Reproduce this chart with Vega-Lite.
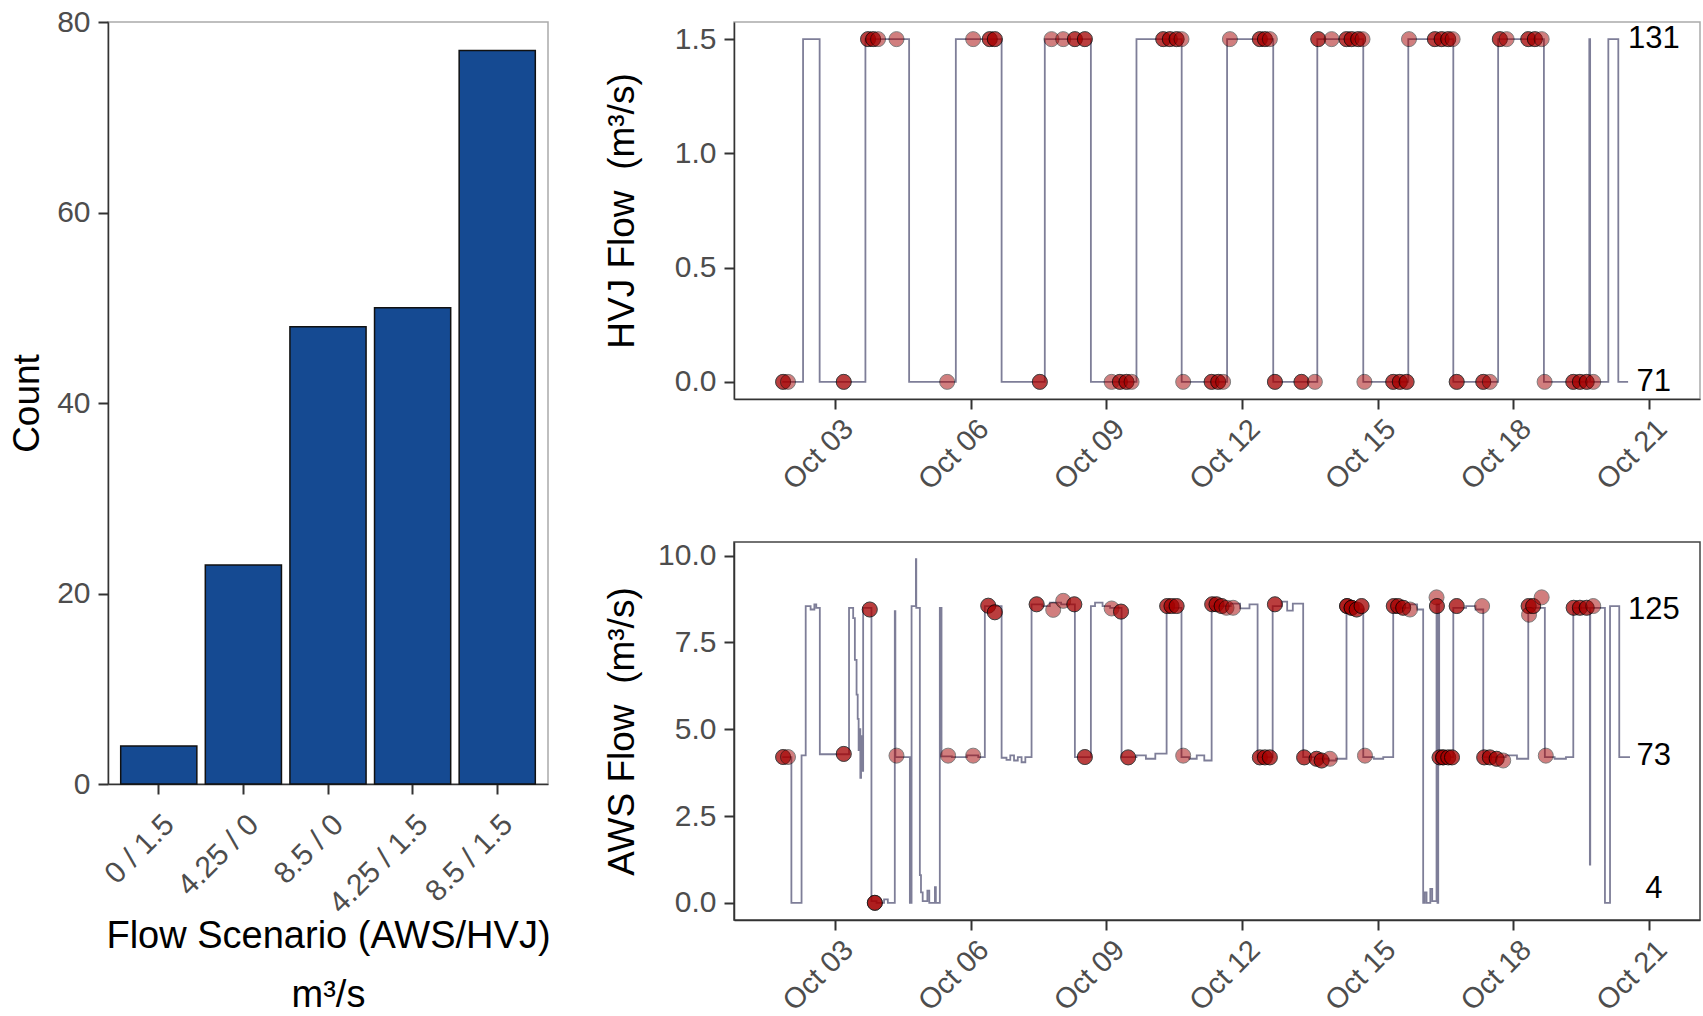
{
  "$schema": "https://vega.github.io/schema/vega-lite/v6.json",
  "background": "white",
  "padding": {"left": 7, "top": 6, "right": 0, "bottom": 0},
  "spacing": 51,
  "config": {
    "font": "Liberation Sans",
    "view": {"stroke": "#AAAAAA", "strokeWidth": 1.5},
    "axis": {
      "labelFont": "Liberation Sans", "labelFontSize": 30, "labelColor": "#4D4D4D",
      "titleFont": "Liberation Sans", "titleFontSize": 37, "titleColor": "#000000", "titleFontWeight": "normal",
      "grid": false, "tickSize": 10, "tickWidth": 2, "tickColor": "#333333",
      "domainColor": "#333333", "domainWidth": 1.5, "labelPadding": 8
    }
  },
  "hconcat": [
    {
      "width": 440, "height": 762,
      "data": {"name": "bars"},
      "mark": {"type": "bar", "fill": "#154A92", "stroke": "#111111", "strokeWidth": 1.5},
      "encoding": {
        "x": {"field": "scenario", "type": "nominal", "sort": null,
          "scale": {"paddingInner": 0.1, "paddingOuter": 0.15},
          "axis": {"title": ["Flow Scenario (AWS/HVJ)", "m³/s"], "labelAngle": -45, "labelAlign": "right", "labelBaseline": "top",
            "labelOffset": 0, "labelPadding": 15, "titleFontSize": 38, "titleLineHeight": 59, "titleY": 133}},
        "y": {"field": "count", "type": "quantitative", "scale": {"domain": [0, 80], "nice": false},
          "axis": {"title": "Count", "values": [0, 20, 40, 60, 80], "titleX": -62}}
      }
    },
    {
      "spacing": 43,
      "vconcat": [
        {
          "width": 966, "height": 377,
          "layer": [
            {"data": {"name": "hvj_line"},
             "mark": {"type": "line", "interpolate": "step-after", "color": "#7E7E98", "strokeWidth": 1.8},
             "encoding": {
               "x": {"field": "t", "type": "temporal",
                 "scale": {"type": "utc", "domain": [{"year": 2019, "month": 9, "date": 30, "hours": 18, "minutes": 20, "utc": true}, {"year": 2019, "month": 10, "date": 22, "hours": 3, "minutes": 10, "utc": true}]},
                 "axis": {"title": null, "format": "%b %d", "labelAngle": -45, "labelAlign": "right", "labelBaseline": "top", "labelOffset": 3, "labelPadding": 5, "labelFontSize": 29, "labelOverlap": false,
                   "values": [{"year": 2019, "month": 10, "date": 3, "utc": true}, {"year": 2019, "month": 10, "date": 6, "utc": true}, {"year": 2019, "month": 10, "date": 9, "utc": true}, {"year": 2019, "month": 10, "date": 12, "utc": true}, {"year": 2019, "month": 10, "date": 15, "utc": true}, {"year": 2019, "month": 10, "date": 18, "utc": true}, {"year": 2019, "month": 10, "date": 21, "utc": true}]}},
               "y": {"field": "v", "type": "quantitative", "scale": {"domain": [-0.075, 1.575], "nice": false, "zero": false},
                 "axis": {"title": "HVJ Flow\u00a0 (m³/s)", "values": [0, 0.5, 1, 1.5], "format": ".1f", "titleX": -93}}
             }},
            {"data": {"name": "hvj_pts"},
             "mark": {"type": "circle", "color": "#A50000", "stroke": "#000000", "strokeWidth": 1, "opacity": 0.5, "size": 225},
             "encoding": {"x": {"field": "t", "type": "temporal"}, "y": {"field": "v", "type": "quantitative"}}},
            {"data": {"name": "hvj_lab"},
             "mark": {"type": "text", "fontSize": 31, "font": "Liberation Sans", "color": "#000000", "align": "center", "baseline": "middle"},
             "encoding": {"x": {"field": "t", "type": "temporal"}, "y": {"field": "v", "type": "quantitative"}, "text": {"field": "label"}}}
          ]
        },
        {
          "width": 966, "height": 378,
          "view": {"stroke": "#444444", "strokeWidth": 1.5},
          "layer": [
            {"data": {"name": "aws_line"},
             "mark": {"type": "line", "interpolate": "step-after", "color": "#7E7E98", "strokeWidth": 1.8},
             "encoding": {
               "x": {"field": "t", "type": "temporal",
                 "scale": {"type": "utc", "domain": [{"year": 2019, "month": 9, "date": 30, "hours": 18, "minutes": 20, "utc": true}, {"year": 2019, "month": 10, "date": 22, "hours": 3, "minutes": 10, "utc": true}]},
                 "axis": {"title": null, "format": "%b %d", "labelAngle": -45, "labelAlign": "right", "labelBaseline": "top", "labelOffset": 3, "labelPadding": 5, "labelFontSize": 29, "labelOverlap": false,
                   "values": [{"year": 2019, "month": 10, "date": 3, "utc": true}, {"year": 2019, "month": 10, "date": 6, "utc": true}, {"year": 2019, "month": 10, "date": 9, "utc": true}, {"year": 2019, "month": 10, "date": 12, "utc": true}, {"year": 2019, "month": 10, "date": 15, "utc": true}, {"year": 2019, "month": 10, "date": 18, "utc": true}, {"year": 2019, "month": 10, "date": 21, "utc": true}]}},
               "y": {"field": "v", "type": "quantitative", "scale": {"domain": [-0.495, 10.395], "nice": false, "zero": false},
                 "axis": {"title": "AWS Flow\u00a0 (m³/s)", "values": [0, 2.5, 5, 7.5, 10], "format": ".1f", "titleX": -93}}
             }},
            {"data": {"name": "aws_pts"},
             "mark": {"type": "circle", "color": "#A50000", "stroke": "#000000", "strokeWidth": 1, "opacity": 0.5, "size": 225},
             "encoding": {"x": {"field": "t", "type": "temporal"}, "y": {"field": "v", "type": "quantitative"}}},
            {"data": {"name": "aws_lab"},
             "mark": {"type": "text", "fontSize": 31, "font": "Liberation Sans", "color": "#000000", "align": "center", "baseline": "middle"},
             "encoding": {"x": {"field": "t", "type": "temporal"}, "y": {"field": "v", "type": "quantitative"}, "text": {"field": "label"}}}
          ]
        }
      ]
    }
  ],
  "datasets": {
    "bars": [
      {"scenario": "0 / 1.5", "count": 4},
      {"scenario": "4.25 / 0", "count": 23},
      {"scenario": "8.5 / 0", "count": 48},
      {"scenario": "4.25 / 1.5", "count": 50},
      {"scenario": "8.5 / 1.5", "count": 77}
    ],
    "hvj_lab": [
      {"t": "2019-10-21T02:40Z", "v": 1.5, "label": "131"},
      {"t": "2019-10-21T02:40Z", "v": 0, "label": "71"}
    ],
    "aws_lab": [
      {"t": "2019-10-21T02:40Z", "v": 8.45, "label": "125"},
      {"t": "2019-10-21T02:40Z", "v": 4.22, "label": "73"},
      {"t": "2019-10-21T02:40Z", "v": 0.4, "label": "4"}
    ],
    "hvj_line": [
      {"t": "2019-10-01T20:00Z", "v": 0},
      {"t": "2019-10-02T07:00Z", "v": 1.5},
      {"t": "2019-10-02T15:48Z", "v": 0},
      {"t": "2019-10-03T16:06Z", "v": 1.5},
      {"t": "2019-10-04T15:18Z", "v": 0},
      {"t": "2019-10-05T16:06Z", "v": 1.5},
      {"t": "2019-10-06T16:24Z", "v": 0},
      {"t": "2019-10-07T15:20Z", "v": 1.5},
      {"t": "2019-10-08T15:48Z", "v": 0},
      {"t": "2019-10-09T16:00Z", "v": 1.5},
      {"t": "2019-10-10T16:00Z", "v": 0},
      {"t": "2019-10-11T16:06Z", "v": 1.5},
      {"t": "2019-10-12T16:36Z", "v": 0},
      {"t": "2019-10-13T16:00Z", "v": 1.5},
      {"t": "2019-10-14T16:24Z", "v": 0},
      {"t": "2019-10-15T16:18Z", "v": 1.5},
      {"t": "2019-10-16T16:12Z", "v": 0},
      {"t": "2019-10-17T16:00Z", "v": 1.5},
      {"t": "2019-10-18T16:18Z", "v": 0},
      {"t": "2019-10-19T16:24Z", "v": 1.5},
      {"t": "2019-10-19T16:50Z", "v": 0},
      {"t": "2019-10-20T02:30Z", "v": 1.5},
      {"t": "2019-10-20T07:48Z", "v": 0},
      {"t": "2019-10-20T13:00Z", "v": 0}
    ],
    "hvj_pts": [
      {"t": "2019-10-01T20:24Z", "v": 0}, {"t": "2019-10-01T20:24Z", "v": 0},
      {"t": "2019-10-01T23:00Z", "v": 0},
      {"t": "2019-10-03T04:36Z", "v": 0}, {"t": "2019-10-03T04:36Z", "v": 0},
      {"t": "2019-10-05T11:30Z", "v": 0},
      {"t": "2019-10-07T12:42Z", "v": 0}, {"t": "2019-10-07T12:42Z", "v": 0},
      {"t": "2019-10-09T02:48Z", "v": 0},
      {"t": "2019-10-09T07:12Z", "v": 0}, {"t": "2019-10-09T07:12Z", "v": 0},
      {"t": "2019-10-09T10:42Z", "v": 0}, {"t": "2019-10-09T10:42Z", "v": 0},
      {"t": "2019-10-09T13:24Z", "v": 0},
      {"t": "2019-10-10T16:48Z", "v": 0},
      {"t": "2019-10-11T07:54Z", "v": 0}, {"t": "2019-10-11T07:54Z", "v": 0},
      {"t": "2019-10-11T11:24Z", "v": 0}, {"t": "2019-10-11T11:24Z", "v": 0},
      {"t": "2019-10-11T14:00Z", "v": 0},
      {"t": "2019-10-12T17:30Z", "v": 0}, {"t": "2019-10-12T17:30Z", "v": 0},
      {"t": "2019-10-13T07:36Z", "v": 0}, {"t": "2019-10-13T07:36Z", "v": 0},
      {"t": "2019-10-13T14:42Z", "v": 0},
      {"t": "2019-10-14T17:00Z", "v": 0},
      {"t": "2019-10-15T08:18Z", "v": 0}, {"t": "2019-10-15T08:18Z", "v": 0},
      {"t": "2019-10-15T11:48Z", "v": 0}, {"t": "2019-10-15T11:48Z", "v": 0},
      {"t": "2019-10-15T15:24Z", "v": 0}, {"t": "2019-10-15T15:24Z", "v": 0},
      {"t": "2019-10-16T18:00Z", "v": 0}, {"t": "2019-10-16T18:00Z", "v": 0},
      {"t": "2019-10-17T08:06Z", "v": 0}, {"t": "2019-10-17T08:06Z", "v": 0},
      {"t": "2019-10-17T11:36Z", "v": 0},
      {"t": "2019-10-18T16:40Z", "v": 0},
      {"t": "2019-10-19T07:54Z", "v": 0}, {"t": "2019-10-19T07:54Z", "v": 0},
      {"t": "2019-10-19T11:24Z", "v": 0}, {"t": "2019-10-19T11:24Z", "v": 0},
      {"t": "2019-10-19T15:00Z", "v": 0}, {"t": "2019-10-19T15:00Z", "v": 0},
      {"t": "2019-10-19T18:30Z", "v": 0},
      {"t": "2019-10-03T17:30Z", "v": 1.5}, {"t": "2019-10-03T17:30Z", "v": 1.5},
      {"t": "2019-10-03T20:12Z", "v": 1.5}, {"t": "2019-10-03T20:12Z", "v": 1.5},
      {"t": "2019-10-03T22:48Z", "v": 1.5},
      {"t": "2019-10-04T08:36Z", "v": 1.5},
      {"t": "2019-10-06T01:18Z", "v": 1.5},
      {"t": "2019-10-06T10:06Z", "v": 1.5}, {"t": "2019-10-06T10:06Z", "v": 1.5},
      {"t": "2019-10-06T12:48Z", "v": 1.5}, {"t": "2019-10-06T12:48Z", "v": 1.5},
      {"t": "2019-10-07T18:54Z", "v": 1.5},
      {"t": "2019-10-08T01:06Z", "v": 1.5},
      {"t": "2019-10-08T07:18Z", "v": 1.5}, {"t": "2019-10-08T07:18Z", "v": 1.5},
      {"t": "2019-10-08T12:36Z", "v": 1.5}, {"t": "2019-10-08T12:36Z", "v": 1.5},
      {"t": "2019-10-10T06:12Z", "v": 1.5}, {"t": "2019-10-10T06:12Z", "v": 1.5},
      {"t": "2019-10-10T09:42Z", "v": 1.5}, {"t": "2019-10-10T09:42Z", "v": 1.5},
      {"t": "2019-10-10T13:18Z", "v": 1.5}, {"t": "2019-10-10T13:18Z", "v": 1.5},
      {"t": "2019-10-10T15:54Z", "v": 1.5},
      {"t": "2019-10-11T17:36Z", "v": 1.5},
      {"t": "2019-10-12T09:30Z", "v": 1.5}, {"t": "2019-10-12T09:30Z", "v": 1.5},
      {"t": "2019-10-12T12:12Z", "v": 1.5}, {"t": "2019-10-12T12:12Z", "v": 1.5},
      {"t": "2019-10-12T14:48Z", "v": 1.5},
      {"t": "2019-10-13T16:30Z", "v": 1.5}, {"t": "2019-10-13T16:30Z", "v": 1.5},
      {"t": "2019-10-13T23:36Z", "v": 1.5},
      {"t": "2019-10-14T07:30Z", "v": 1.5}, {"t": "2019-10-14T07:30Z", "v": 1.5},
      {"t": "2019-10-14T10:12Z", "v": 1.5}, {"t": "2019-10-14T10:12Z", "v": 1.5},
      {"t": "2019-10-14T13:42Z", "v": 1.5}, {"t": "2019-10-14T13:42Z", "v": 1.5},
      {"t": "2019-10-14T16:00Z", "v": 1.5},
      {"t": "2019-10-15T16:40Z", "v": 1.5},
      {"t": "2019-10-16T06:24Z", "v": 1.5}, {"t": "2019-10-16T06:24Z", "v": 1.5},
      {"t": "2019-10-16T10:00Z", "v": 1.5}, {"t": "2019-10-16T10:00Z", "v": 1.5},
      {"t": "2019-10-16T13:30Z", "v": 1.5}, {"t": "2019-10-16T13:30Z", "v": 1.5},
      {"t": "2019-10-16T15:50Z", "v": 1.5},
      {"t": "2019-10-17T16:54Z", "v": 1.5}, {"t": "2019-10-17T16:54Z", "v": 1.5},
      {"t": "2019-10-17T20:30Z", "v": 1.5},
      {"t": "2019-10-18T08:00Z", "v": 1.5}, {"t": "2019-10-18T08:00Z", "v": 1.5},
      {"t": "2019-10-18T11:30Z", "v": 1.5}, {"t": "2019-10-18T11:30Z", "v": 1.5},
      {"t": "2019-10-18T15:06Z", "v": 1.5}
    ],
    "aws_line": [
      {"t": "2019-10-01T20:00Z", "v": 4.2},
      {"t": "2019-10-02T00:48Z", "v": 0},
      {"t": "2019-10-02T06:12Z", "v": 4.25},
      {"t": "2019-10-02T08:24Z", "v": 8.55},
      {"t": "2019-10-02T11:00Z", "v": 8.45},
      {"t": "2019-10-02T13:00Z", "v": 8.6},
      {"t": "2019-10-02T14:00Z", "v": 8.5},
      {"t": "2019-10-02T15:54Z", "v": 4.28},
      {"t": "2019-10-03T07:24Z", "v": 8.5},
      {"t": "2019-10-03T09:36Z", "v": 8.2},
      {"t": "2019-10-03T10:30Z", "v": 7.0},
      {"t": "2019-10-03T11:24Z", "v": 6.0},
      {"t": "2019-10-03T12:00Z", "v": 5.3},
      {"t": "2019-10-03T12:30Z", "v": 4.4},
      {"t": "2019-10-03T13:00Z", "v": 5.0},
      {"t": "2019-10-03T13:24Z", "v": 3.6},
      {"t": "2019-10-03T13:48Z", "v": 4.8},
      {"t": "2019-10-03T14:18Z", "v": 3.8},
      {"t": "2019-10-03T14:54Z", "v": 8.5},
      {"t": "2019-10-03T19:18Z", "v": 0.05},
      {"t": "2019-10-03T22:00Z", "v": 0.0},
      {"t": "2019-10-04T02:00Z", "v": 0.1},
      {"t": "2019-10-04T04:00Z", "v": 0.0},
      {"t": "2019-10-04T07:42Z", "v": 8.4},
      {"t": "2019-10-04T08:00Z", "v": 4.2},
      {"t": "2019-10-04T15:42Z", "v": 0},
      {"t": "2019-10-04T16:36Z", "v": 8.55},
      {"t": "2019-10-04T18:54Z", "v": 9.9},
      {"t": "2019-10-04T19:06Z", "v": 8.5},
      {"t": "2019-10-04T21:00Z", "v": 0.8},
      {"t": "2019-10-04T21:36Z", "v": 0.3},
      {"t": "2019-10-04T22:30Z", "v": 0.05},
      {"t": "2019-10-05T01:00Z", "v": 0.35},
      {"t": "2019-10-05T02:00Z", "v": 0.0},
      {"t": "2019-10-05T05:00Z", "v": 0.45},
      {"t": "2019-10-05T05:30Z", "v": 0.0},
      {"t": "2019-10-05T07:36Z", "v": 8.5},
      {"t": "2019-10-05T08:30Z", "v": 4.22},
      {"t": "2019-10-05T14:00Z", "v": 4.2},
      {"t": "2019-10-05T22:00Z", "v": 4.25},
      {"t": "2019-10-06T04:00Z", "v": 4.2},
      {"t": "2019-10-06T07:30Z", "v": 8.55},
      {"t": "2019-10-06T16:24Z", "v": 4.18},
      {"t": "2019-10-06T19:00Z", "v": 4.12},
      {"t": "2019-10-06T21:00Z", "v": 4.25},
      {"t": "2019-10-06T23:00Z", "v": 4.1},
      {"t": "2019-10-07T01:00Z", "v": 4.2},
      {"t": "2019-10-07T03:00Z", "v": 4.05},
      {"t": "2019-10-07T05:00Z", "v": 4.2},
      {"t": "2019-10-07T08:18Z", "v": 8.6},
      {"t": "2019-10-07T14:00Z", "v": 8.55},
      {"t": "2019-10-07T18:00Z", "v": 8.65},
      {"t": "2019-10-08T00:00Z", "v": 8.6},
      {"t": "2019-10-08T07:18Z", "v": 4.2},
      {"t": "2019-10-08T15:48Z", "v": 8.55},
      {"t": "2019-10-08T18:00Z", "v": 8.65},
      {"t": "2019-10-08T22:00Z", "v": 8.55},
      {"t": "2019-10-09T02:00Z", "v": 8.5},
      {"t": "2019-10-09T08:06Z", "v": 4.2},
      {"t": "2019-10-09T16:00Z", "v": 4.25},
      {"t": "2019-10-09T21:00Z", "v": 4.15},
      {"t": "2019-10-10T02:00Z", "v": 4.3},
      {"t": "2019-10-10T08:00Z", "v": 8.5},
      {"t": "2019-10-10T15:54Z", "v": 4.2},
      {"t": "2019-10-10T20:00Z", "v": 4.15},
      {"t": "2019-10-11T00:00Z", "v": 4.25},
      {"t": "2019-10-11T04:00Z", "v": 4.1},
      {"t": "2019-10-11T07:54Z", "v": 8.55},
      {"t": "2019-10-11T18:00Z", "v": 8.62},
      {"t": "2019-10-11T23:00Z", "v": 8.48},
      {"t": "2019-10-12T04:00Z", "v": 8.6},
      {"t": "2019-10-12T08:18Z", "v": 4.2},
      {"t": "2019-10-12T16:18Z", "v": 8.55},
      {"t": "2019-10-12T21:00Z", "v": 8.68},
      {"t": "2019-10-13T00:00Z", "v": 8.42},
      {"t": "2019-10-13T03:00Z", "v": 8.62},
      {"t": "2019-10-13T08:30Z", "v": 4.2},
      {"t": "2019-10-13T15:00Z", "v": 4.15},
      {"t": "2019-10-13T22:00Z", "v": 4.1},
      {"t": "2019-10-14T02:00Z", "v": 4.15},
      {"t": "2019-10-14T07:30Z", "v": 8.5},
      {"t": "2019-10-14T11:00Z", "v": 8.6},
      {"t": "2019-10-14T14:00Z", "v": 8.45},
      {"t": "2019-10-14T16:24Z", "v": 4.2},
      {"t": "2019-10-14T22:00Z", "v": 4.15},
      {"t": "2019-10-15T03:00Z", "v": 4.2},
      {"t": "2019-10-15T08:18Z", "v": 8.5},
      {"t": "2019-10-15T17:00Z", "v": 8.6},
      {"t": "2019-10-15T21:00Z", "v": 8.45},
      {"t": "2019-10-16T00:12Z", "v": 0.0},
      {"t": "2019-10-16T01:00Z", "v": 0.3},
      {"t": "2019-10-16T02:00Z", "v": 0.0},
      {"t": "2019-10-16T04:00Z", "v": 0.4},
      {"t": "2019-10-16T05:00Z", "v": 0.05},
      {"t": "2019-10-16T07:18Z", "v": 8.6},
      {"t": "2019-10-16T07:48Z", "v": 0.0},
      {"t": "2019-10-16T08:12Z", "v": 8.6},
      {"t": "2019-10-16T08:42Z", "v": 4.2},
      {"t": "2019-10-16T16:12Z", "v": 8.5},
      {"t": "2019-10-16T23:00Z", "v": 8.55},
      {"t": "2019-10-17T04:00Z", "v": 8.45},
      {"t": "2019-10-17T08:06Z", "v": 4.2},
      {"t": "2019-10-17T20:00Z", "v": 4.25},
      {"t": "2019-10-18T02:00Z", "v": 4.15},
      {"t": "2019-10-18T08:00Z", "v": 8.5},
      {"t": "2019-10-18T16:48Z", "v": 4.2},
      {"t": "2019-10-18T22:00Z", "v": 4.15},
      {"t": "2019-10-19T04:00Z", "v": 4.2},
      {"t": "2019-10-19T07:54Z", "v": 8.5},
      {"t": "2019-10-19T16:42Z", "v": 1.1},
      {"t": "2019-10-19T16:54Z", "v": 8.5},
      {"t": "2019-10-20T00:42Z", "v": 0.0},
      {"t": "2019-10-20T03:24Z", "v": 8.55},
      {"t": "2019-10-20T08:18Z", "v": 4.2},
      {"t": "2019-10-20T14:00Z", "v": 4.2}
    ],
    "aws_pts": [
      {"t": "2019-10-01T20:24Z", "v": 4.2}, {"t": "2019-10-01T20:24Z", "v": 4.2},
      {"t": "2019-10-01T23:00Z", "v": 4.2},
      {"t": "2019-10-03T04:36Z", "v": 4.29}, {"t": "2019-10-03T04:36Z", "v": 4.29},
      {"t": "2019-10-03T18:24Z", "v": 8.45}, {"t": "2019-10-03T18:24Z", "v": 8.45},
      {"t": "2019-10-03T21:06Z", "v": 0}, {"t": "2019-10-03T21:06Z", "v": 0}, {"t": "2019-10-03T21:06Z", "v": 0},
      {"t": "2019-10-04T08:36Z", "v": 4.24},
      {"t": "2019-10-05T12:00Z", "v": 4.24},
      {"t": "2019-10-06T01:18Z", "v": 4.24},
      {"t": "2019-10-06T09:18Z", "v": 8.56}, {"t": "2019-10-06T09:18Z", "v": 8.56},
      {"t": "2019-10-06T12:48Z", "v": 8.37}, {"t": "2019-10-06T12:48Z", "v": 8.37},
      {"t": "2019-10-07T11:00Z", "v": 8.6}, {"t": "2019-10-07T11:00Z", "v": 8.6},
      {"t": "2019-10-07T19:48Z", "v": 8.44},
      {"t": "2019-10-08T01:06Z", "v": 8.7},
      {"t": "2019-10-08T07:00Z", "v": 8.6}, {"t": "2019-10-08T07:00Z", "v": 8.6},
      {"t": "2019-10-08T12:36Z", "v": 4.2}, {"t": "2019-10-08T12:36Z", "v": 4.2},
      {"t": "2019-10-09T02:48Z", "v": 8.48},
      {"t": "2019-10-09T07:48Z", "v": 8.39}, {"t": "2019-10-09T07:48Z", "v": 8.39},
      {"t": "2019-10-09T11:36Z", "v": 4.19}, {"t": "2019-10-09T11:36Z", "v": 4.19},
      {"t": "2019-10-10T08:18Z", "v": 8.55}, {"t": "2019-10-10T08:18Z", "v": 8.55},
      {"t": "2019-10-10T10:36Z", "v": 8.55}, {"t": "2019-10-10T10:36Z", "v": 8.55},
      {"t": "2019-10-10T13:18Z", "v": 8.55}, {"t": "2019-10-10T13:18Z", "v": 8.55},
      {"t": "2019-10-10T16:48Z", "v": 4.24},
      {"t": "2019-10-11T08:12Z", "v": 8.6}, {"t": "2019-10-11T08:12Z", "v": 8.6},
      {"t": "2019-10-11T10:30Z", "v": 8.6}, {"t": "2019-10-11T10:30Z", "v": 8.6},
      {"t": "2019-10-11T13:12Z", "v": 8.55}, {"t": "2019-10-11T13:12Z", "v": 8.55},
      {"t": "2019-10-11T15:48Z", "v": 8.5},
      {"t": "2019-10-11T19:18Z", "v": 8.5},
      {"t": "2019-10-12T09:30Z", "v": 4.19}, {"t": "2019-10-12T09:30Z", "v": 4.19},
      {"t": "2019-10-12T12:12Z", "v": 4.19}, {"t": "2019-10-12T12:12Z", "v": 4.19},
      {"t": "2019-10-12T14:48Z", "v": 4.19}, {"t": "2019-10-12T14:48Z", "v": 4.19},
      {"t": "2019-10-12T17:30Z", "v": 8.6}, {"t": "2019-10-12T17:30Z", "v": 8.6},
      {"t": "2019-10-13T09:00Z", "v": 4.19}, {"t": "2019-10-13T09:00Z", "v": 4.19},
      {"t": "2019-10-13T15:36Z", "v": 4.15}, {"t": "2019-10-13T15:36Z", "v": 4.15},
      {"t": "2019-10-13T18:18Z", "v": 4.1}, {"t": "2019-10-13T18:18Z", "v": 4.1},
      {"t": "2019-10-13T22:42Z", "v": 4.15},
      {"t": "2019-10-14T07:48Z", "v": 8.55}, {"t": "2019-10-14T07:48Z", "v": 8.55}, {"t": "2019-10-14T07:48Z", "v": 8.55},
      {"t": "2019-10-14T10:12Z", "v": 8.5}, {"t": "2019-10-14T10:12Z", "v": 8.5}, {"t": "2019-10-14T10:12Z", "v": 8.5},
      {"t": "2019-10-14T12:54Z", "v": 8.45}, {"t": "2019-10-14T12:54Z", "v": 8.45},
      {"t": "2019-10-14T15:30Z", "v": 8.55}, {"t": "2019-10-14T15:30Z", "v": 8.55},
      {"t": "2019-10-14T17:18Z", "v": 4.24},
      {"t": "2019-10-15T08:36Z", "v": 8.55}, {"t": "2019-10-15T08:36Z", "v": 8.55},
      {"t": "2019-10-15T10:54Z", "v": 8.55}, {"t": "2019-10-15T10:54Z", "v": 8.55},
      {"t": "2019-10-15T13:36Z", "v": 8.5}, {"t": "2019-10-15T13:36Z", "v": 8.5},
      {"t": "2019-10-15T17:12Z", "v": 8.45},
      {"t": "2019-10-16T07:18Z", "v": 8.8},
      {"t": "2019-10-16T07:30Z", "v": 8.55}, {"t": "2019-10-16T07:30Z", "v": 8.55},
      {"t": "2019-10-16T08:54Z", "v": 4.19}, {"t": "2019-10-16T08:54Z", "v": 4.19},
      {"t": "2019-10-16T10:48Z", "v": 4.19}, {"t": "2019-10-16T10:48Z", "v": 4.19}, {"t": "2019-10-16T10:48Z", "v": 4.19},
      {"t": "2019-10-16T13:30Z", "v": 4.19}, {"t": "2019-10-16T13:30Z", "v": 4.19},
      {"t": "2019-10-16T15:30Z", "v": 4.19}, {"t": "2019-10-16T15:30Z", "v": 4.19},
      {"t": "2019-10-16T18:00Z", "v": 8.55}, {"t": "2019-10-16T18:00Z", "v": 8.55},
      {"t": "2019-10-17T07:30Z", "v": 8.55},
      {"t": "2019-10-17T08:36Z", "v": 4.19}, {"t": "2019-10-17T08:36Z", "v": 4.19},
      {"t": "2019-10-17T11:36Z", "v": 4.19}, {"t": "2019-10-17T11:36Z", "v": 4.19},
      {"t": "2019-10-17T15:12Z", "v": 4.15}, {"t": "2019-10-17T15:12Z", "v": 4.15},
      {"t": "2019-10-17T18:42Z", "v": 4.1},
      {"t": "2019-10-18T08:12Z", "v": 8.55}, {"t": "2019-10-18T08:12Z", "v": 8.55},
      {"t": "2019-10-18T08:24Z", "v": 8.3},
      {"t": "2019-10-18T10:36Z", "v": 8.55}, {"t": "2019-10-18T10:36Z", "v": 8.55},
      {"t": "2019-10-18T15:06Z", "v": 8.8},
      {"t": "2019-10-18T17:18Z", "v": 4.24},
      {"t": "2019-10-19T08:06Z", "v": 8.5}, {"t": "2019-10-19T08:06Z", "v": 8.5},
      {"t": "2019-10-19T11:24Z", "v": 8.5}, {"t": "2019-10-19T11:24Z", "v": 8.5},
      {"t": "2019-10-19T15:00Z", "v": 8.5}, {"t": "2019-10-19T15:00Z", "v": 8.5},
      {"t": "2019-10-19T18:30Z", "v": 8.55}
    ]
  }
}
